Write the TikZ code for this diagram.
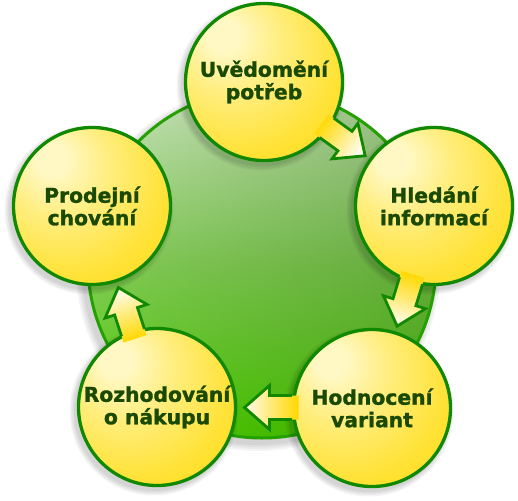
\documentclass[tikz,border=0pt]{standalone}
\usepackage{fontspec}
\setmainfont{DejaVu Sans}
\newfontfamily\stagefont{DejaVu Sans Bold}[FakeBold=1.4]
\usetikzlibrary{calc,fadings}
\definecolor{txt}{HTML}{1A4A02}
\definecolor{ring}{HTML}{108800}
\definecolor{yhi}{HTML}{FFF8C4}
\definecolor{ylt}{HTML}{FFEE80}
\definecolor{ymid}{HTML}{FFE236}
\definecolor{yedge}{HTML}{FFD600}
\definecolor{gtop}{HTML}{CFE7C2}
\definecolor{gmid}{HTML}{84CC58}
\definecolor{gbot}{HTML}{4CCD00}
\definecolor{gring}{HTML}{24A000}
\definecolor{gdark}{HTML}{1E5A00}
\definecolor{atail}{HTML}{FFD800}
\definecolor{atip}{HTML}{FFFCEC}
\pgfdeclareradialshading{yball}{\pgfpoint{-14bp}{16bp}}{color(0bp)=(yhi); color(5bp)=(yhi); color(16bp)=(ylt); color(32bp)=(ymid); color(52bp)=(yedge); color(75bp)=(yedge)}
\tikzset{
  stage/.style={circle, draw=ring, line width=3.3pt, minimum size=157pt, inner sep=0pt,
    shading=yball, font=\stagefont\fontsize{20.3}{22.5}\selectfont, text=txt, align=center},
  arrowfill/.style={shading=axis, top color=atip, bottom color=atail, draw=none},
  arrowline/.style={draw=ring, line width=2.8pt, line join=miter},
  softshadow/.style={fill=black, fill opacity=0.045},
}
\newcommand\flowarrow[4]{%
  \begin{scope}[shift={($(#1)!0.5!(#2)$)}, rotate=#3]
    \path[arrowfill, shading angle=#4] (-34,12) -- (-5,12) -- (-5,22) -- (20,0) -- (-5,-22) -- (-5,-12) -- (-34,-12) -- cycle;
    \draw[arrowline] (-27.5,12) -- (-5,12) -- (-5,22) -- (20,0) -- (-5,-22) -- (-5,-12) -- (-27.5,-12);
  \end{scope}}
\begin{document}
\begin{tikzpicture}[x=1pt,y=-1pt]
\useasboundingbox (0,0) rectangle (518,500);
\fill[white] (0,0) rectangle (518,500);
% big green circle
\coordinate (gc) at (262,264);
\foreach \r in {176,178,180,182}{\fill[softshadow] ($(gc)+(-4,5)$) circle (\r);}
\path[shading=axis, top color=gtop, bottom color=gbot, middle color=gmid] (gc) circle (174);
\fill[gdark, fill opacity=0.30, path fading=west] (gc) circle (174);
\draw[gring, line width=3pt] (gc) circle (174);
% shadows of stages
\foreach \cx/\cy in {264/82, 434/206, 372/408, 157/407, 92/206}{
  \foreach \r in {80,81.5,83,84.5}{\fill[softshadow] (\cx-3,\cy+4) circle (\r);}
}
% stages
\node[stage] (n1) at (264,82) {Uvědomění\\potřeb};
\node[stage] (n2) at (434,206) {Hledání\\informací};
\node[stage] (n3) at (372,408) {Hodnocení\\variant};
\node[stage] (n4) at (157,407) {Rozhodování\\o nákupu};
\node[stage] (n5) at (92,206) {Prodejní\\chování};
% arrows
\flowarrow{n1}{n2}{-36}{-126}
\flowarrow{n2}{n3}{-107}{-197}
\flowarrow{n3}{n4}{180}{90}
\flowarrow{n4}{n5}{108}{18}
\end{tikzpicture}
\end{document}
